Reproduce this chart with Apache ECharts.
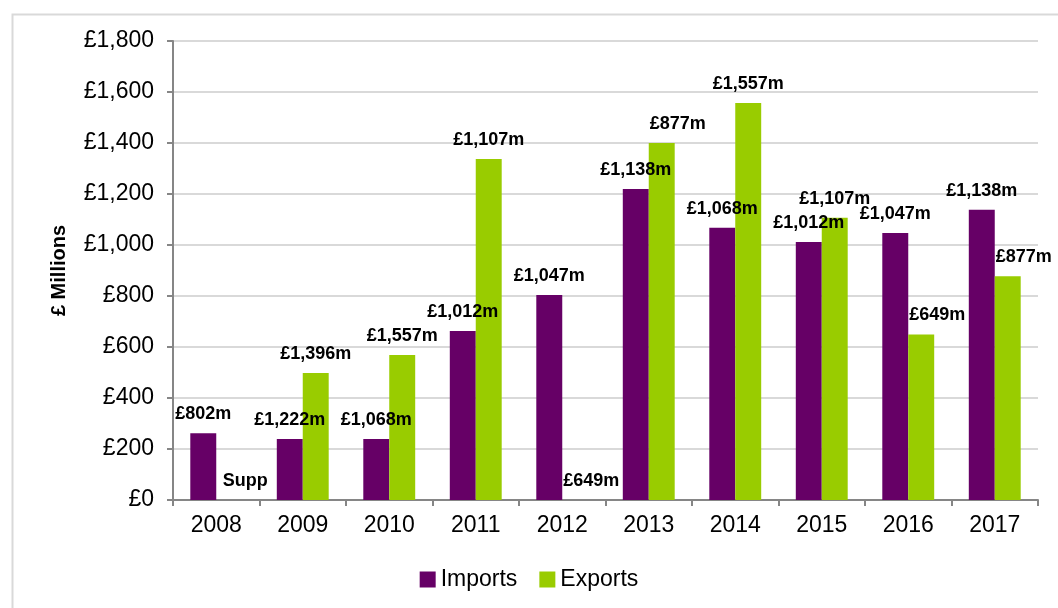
<!DOCTYPE html>
<html>
<head>
<meta charset="utf-8">
<script src="https://cdn.jsdelivr.net/npm/echarts@6/dist/echarts.min.js"></script>
<style>
html,body{margin:0;padding:0;background:#fff;}
#chart{width:1058px;height:608px;}
</style>
</head>
<body>
<div id="chart"></div>
<script>
const categories = ['2008','2009','2010','2011','2012','2013','2014','2015','2016','2017'];
const importsValues = [262, 239, 239, 663, 804, 1220, 1068, 1012, 1047, 1138];
const exportsValues = [0, 498, 569, 1337, 0, 1400, 1557, 1107, 649, 877];
const importsLabels = ['£802m','£1,222m','£1,068m','£1,012m','£1,047m','£1,138m','£1,068m','£1,012m','£1,047m','£1,138m'];
const exportsLabels = ['Supp','£1,396m','£1,557m','£1,107m','£649m','£877m','£1,557m','£1,107m','£649m','£877m'];
const yTicks = [0, 200, 400, 600, 800, 1000, 1200, 1400, 1600, 1800];

const FONT = '"Liberation Sans", Arial, sans-serif';

function fmtPound(v){ return '£' + v.toLocaleString('en-GB'); }

function buildData(values, labels, shortShift){
  return values.map((v, i) => ({
    value: v,
    label: {
      formatter: labels[i],
      offset: [shortShift && labels[i].length <= 5 ? 16 : 0, 0]
    }
  }));
}

const labelStyle = {
  show: true,
  position: 'top',
  distance: 10,
  color: '#000',
  fontFamily: FONT,
  fontWeight: 'bold',
  fontSize: 18
};

const chart = echarts.init(document.getElementById('chart'), null, {renderer: 'canvas'});
chart.setOption({
  animation: false,
  backgroundColor: '#fff',
  graphic: [{
    type: 'rect',
    left: 10, top: 12,
    shape: {width: 1200, height: 800},
    style: {fill: 'none', stroke: '#d9d9d9', lineWidth: 2},
    silent: true, z: -1
  }],
  grid: {left: 173, right: 20, top: 41, bottom: 108, containLabel: false},
  legend: {
    bottom: 12,
    left: 'center',
    itemWidth: 16,
    itemHeight: 16,
    itemGap: 22,
    icon: 'rect',
    textStyle: {fontFamily: FONT, fontSize: 23, color: '#000'},
    data: ['Imports', 'Exports']
  },
  xAxis: {
    type: 'category',
    data: categories,
    boundaryGap: true,
    axisLine: {lineStyle: {color: '#868686', width: 2}},
    axisTick: {show: true, length: 6, lineStyle: {color: '#868686', width: 2}},
    axisLabel: {fontFamily: FONT, fontSize: 23, color: '#000', margin: 14}
  },
  yAxis: {
    type: 'value',
    min: yTicks[0],
    max: yTicks[yTicks.length - 1],
    interval: yTicks[1] - yTicks[0],
    name: '£ Millions',
    nameLocation: 'middle',
    nameGap: 104,
    nameRotate: 90,
    nameTextStyle: {fontFamily: FONT, fontSize: 20, fontWeight: 'bold', color: '#000'},
    axisLine: {show: true, lineStyle: {color: '#868686', width: 2}},
    axisTick: {show: true, length: 6, lineStyle: {color: '#868686', width: 2}},
    axisLabel: {fontFamily: FONT, fontSize: 23, color: '#000', margin: 19, formatter: fmtPound},
    splitLine: {show: true, lineStyle: {color: '#d9d9d9', width: 2}}
  },
  series: [
    {
      name: 'Imports',
      type: 'bar',
      data: buildData(importsValues, importsLabels, false),
      itemStyle: {color: '#660066'},
      barGap: '0%',
      barCategoryGap: '40%',
      label: labelStyle
    },
    {
      name: 'Exports',
      type: 'bar',
      data: buildData(exportsValues, exportsLabels, true),
      itemStyle: {color: '#99CC00'},
      barGap: '0%',
      barCategoryGap: '40%',
      label: labelStyle
    }
  ]
});
</script>
</body>
</html>
